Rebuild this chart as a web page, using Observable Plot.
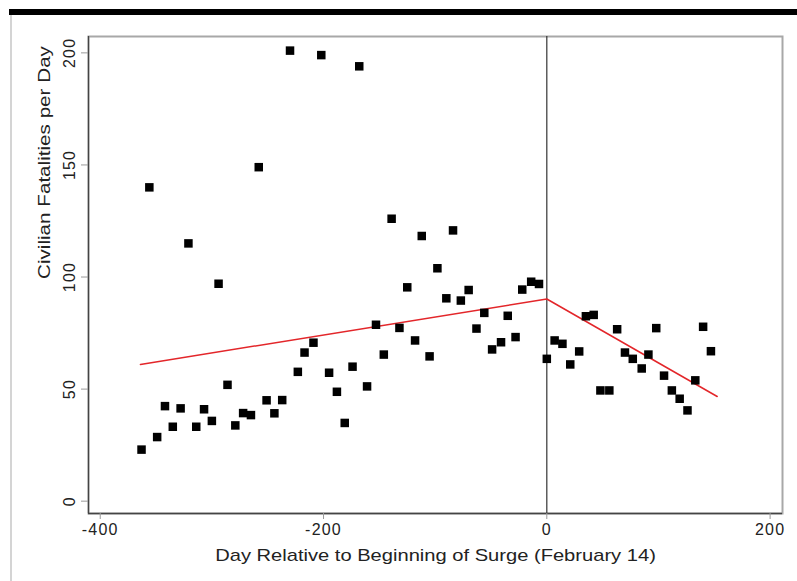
<!DOCTYPE html>
<html>
<head>
<meta charset="utf-8">
<script src="https://cdn.jsdelivr.net/npm/d3@7"></script>
<script src="https://cdn.jsdelivr.net/npm/@observablehq/plot@0.6"></script>
<style>
  html, body { margin: 0; padding: 0; background: #fff; }
  #wrap { position: relative; width: 797px; height: 581px; overflow: hidden; background: #fff; }
  #topbar { position: absolute; left: 9px; top: 9px; width: 788px; height: 6px; background: #000; }
  #leftline { position: absolute; left: 10px; top: 15px; width: 1.5px; height: 566px; background: #d4d4d4; }
  #chart { position: absolute; left: 0; top: 0; }
  #chart svg { font-family: "Liberation Sans", Arial, Helvetica, sans-serif; }
  #chart g[aria-label="x-axis tick label"] text,
  #chart g[aria-label="y-axis tick label"] text { letter-spacing: 1.2px; }
</style>
</head>
<body>
<div id="wrap">
  <div id="chart"></div>
  <div id="topbar"></div>
  <div id="leftline"></div>
</div>
<script>
// Day relative to beginning of surge (Feb 14)
const days = [-363,-356,-349,-342,-335,-328,-321,-314,-307,-300,
  -294,-286,-279,-272,-265,-258,-251,-244,-237,-230,
  -223,-217,-209,-202,-195,-188,-181,-174,-168,-161,
  -153,-146,-139,-132,-125,-118,-112,-105,-98,-90,
  -84,-77,-70,-63,-56,-49,-41,-35,-28,-22,
  -14,-7,
  0,7,14,21,29,35,42,48,56,63,
  70,77,85,91,98,105,112,119,126,133,
  140,147];
// Civilian fatalities per day
const fatalities = [23,140,28.6,42.4,33.2,41.4,115,33.2,41,35.8,
  97,51.9,33.8,39.3,38.4,149,45,39.2,45.1,201,
  57.7,66.3,70.7,199,57.3,48.8,34.9,60,194,51.2,
  78.7,65.4,126,77.3,95.4,71.7,118.3,64.6,103.9,90.5,
  120.8,89.5,94.2,77,84,67.7,70.9,82.7,73.2,94.4,
  97.9,96.9,
  63.5,71.7,70.2,61,66.8,82.5,83.1,49.4,49.4,76.7,
  66.3,63.5,59.2,65.4,77.2,56,49.4,45.7,40.5,53.9,
  77.8,66.9];
// Fitted piecewise trend line
const fitDays = [-364, 0, 152.6];
const fitValues = [61, 90.2, 46.7];

const xTicks = [-400, -200, 0, 200];
const yTicks = [0, 50, 100, 150, 200];
const xDomain = [-410.5, 211.1];
const yDomain = [-5.5, 207.3];
const xTitle = "Day Relative to Beginning of Surge (February 14)";
const yTitle = "Civilian Fatalities per Day";

const points = days.map((d, i) => ({day: d, value: fatalities[i]}));
const fit = fitDays.map((d, i) => ({day: d, value: fitValues[i]}));

const chart = Plot.plot({
  width: 797,
  height: 581,
  marginLeft: 88,
  marginRight: 15,
  marginTop: 36,
  marginBottom: 68,
  style: {background: "transparent", color: "#222", fontSize: "16px"},
  x: {domain: xDomain},
  y: {domain: yDomain},
  marks: [
    Plot.frame({stroke: "#a8a8a8", strokeWidth: 2}),
    Plot.ruleX([xDomain[0]], {stroke: "#444", strokeWidth: 1.3}),
    Plot.ruleY([yDomain[0]], {stroke: "#444", strokeWidth: 1.3}),
    Plot.axisX({ticks: xTicks, tickSize: 6, tickPadding: 4, tickFormat: d => String(d), label: null, stroke: "#999", fill: "#222", fontSize: 16}),
    Plot.axisY({ticks: yTicks, tickSize: 7, tickPadding: 7, tickRotate: -90, tickFormat: d => String(d), label: null, stroke: "#999", fill: "#222", fontSize: 16}),
    Plot.ruleX([0], {stroke: "#333", strokeWidth: 1.2}),
    Plot.line(fit, {x: "day", y: "value", stroke: "#e3262a", strokeWidth: 1.5}),
    Plot.dot(points, {x: "day", y: "value", symbol: "square", r: 4.8, fill: "#000", stroke: "none"}),
    Plot.text([xTitle], {frameAnchor: "bottom", text: d => d, dy: 47.7, lineAnchor: "bottom", fontSize: 16, fill: "#222"}),
    Plot.text([yTitle], {frameAnchor: "left", text: d => d, dx: -39, dy: 4, rotate: -90, lineAnchor: "bottom", fontSize: 16, fill: "#222"})
  ]
});
document.getElementById("chart").appendChild(chart);

// Stretch the two axis titles along their reading direction (wide reference lettering)
function stretch(label, targetLength) {
  d3.select(chart).selectAll("text")
    .filter(function() { return this.textContent === label; })
    .each(function() {
      const w = this.getComputedTextLength();
      if (!w) return;
      const s = targetLength / w;
      const x = +(this.getAttribute("x") || 0);
      const y = +(this.getAttribute("y") || 0);
      const t = this.getAttribute("transform") || "";
      this.setAttribute("transform", `${t} translate(${x},${y}) scale(${s},1) translate(${-x},${-y})`);
    });
}
stretch(xTitle, 441);
stretch(yTitle, 233);
</script>
</body>
</html>
